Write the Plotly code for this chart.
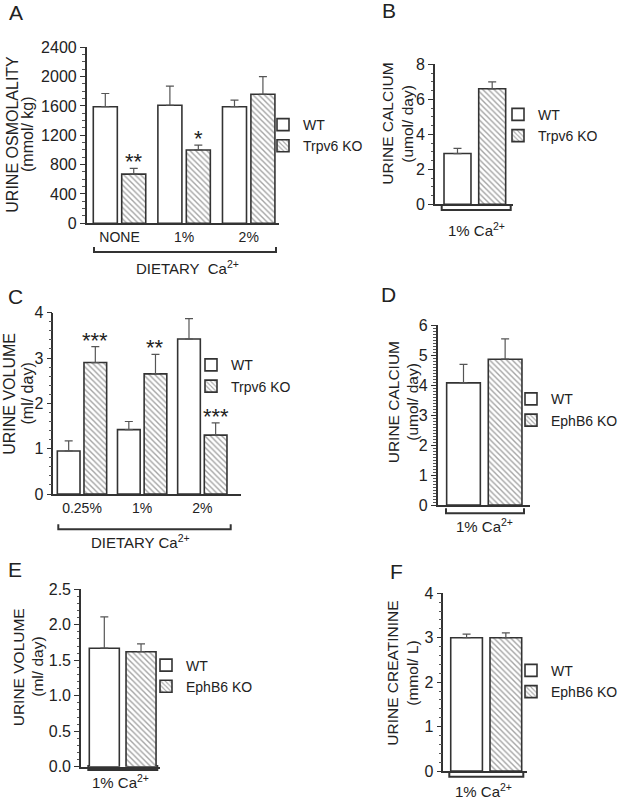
import plotly.graph_objects as go

W, H = 625, 799

# ---------------- data ----------------
a_cats = ["NONE", "1%", "2%"]
a_wt = [1590, 1610, 1590]
a_wt_err = [180, 260, 90]
a_ko = [670, 1000, 1760]
a_ko_err = [80, 65, 240]
a_stars = ["**", "*", ""]

b_cats = ["1% Ca"]
b_wt = [2.9]
b_wt_err = [0.3]
b_ko = [6.6]
b_ko_err = [0.4]

c_cats = ["0.25%", "1%", "2%"]
c_wt = [0.95, 1.42, 3.42]
c_wt_err = [0.22, 0.18, 0.45]
c_ko = [2.9, 2.65, 1.3]
c_ko_err = [0.35, 0.43, 0.27]
c_stars = ["***", "**", "***"]

d_cats = ["1% Ca"]
d_wt = [4.07]
d_wt_err = [0.62]
d_ko = [4.86]
d_ko_err = [0.68]

e_cats = ["1% Ca"]
e_wt = [1.67]
e_wt_err = [0.44]
e_ko = [1.62]
e_ko_err = [0.11]

f_cats = ["1% Ca"]
f_wt = [3.0]
f_wt_err = [0.08]
f_ko = [3.0]
f_ko_err = [0.11]

# ---------------- style helpers ----------------
FONT = "Liberation Sans, Arial, sans-serif"
TXT = "#222222"
LINE = "#333333"


def fx(px):
    return px / W


def fy(py):
    return 1 - py / H


panels = [
    dict(cats=a_cats, wt=a_wt, wte=a_wt_err, ko=a_ko, koe=a_ko_err, kon="Trpv6 KO", stars=a_stars,
         xpx=(86.7, 279), ypx=(223.3, 47.3), yr=(0, 2400), xr=(-0.508, 2.469),
         wo=-0.406, ko_off=0.034, bw=0.372, dtick=400, minor=100, fmt="d", showcat=True,
         leg=(263, 135.5), t1="URINE OSMOLALITY", t2="(mmol/ kg)", tx=(11.7, 27), ty=134,
         tsize=16, letter=("A", 16, 13)),
    dict(cats=b_cats, wt=b_wt, wte=b_wt_err, ko=b_ko, koe=b_ko_err, kon="Trpv6 KO", stars=None,
         xpx=(435, 512.7), ypx=(204.3, 64.3), yr=(0, 8), xr=(-0.513, 0.487),
         wo=-0.397, ko_off=0.0495, bw=0.347, dtick=2, minor=0.5, fmt="d", showcat=False,
         leg=(498, 125.3), t1="URINE CALCIUM", t2="(umol/ day)", tx=(386.7, 406.7), ty=124,
         tsize=15.5, letter=("B", 389, 10)),
    dict(cats=c_cats, wt=c_wt, wte=c_wt_err, ko=c_ko, koe=c_ko_err, kon="Trpv6 KO", stars=c_stars,
         xpx=(53.3, 240.7), ypx=(494, 312.7), yr=(0, 4), xr=(-0.477, 2.638),
         wo=-0.41, ko_off=0.033, bw=0.377, dtick=1, minor=0.2, fmt="d", showcat=True,
         leg=(191, 375.8), t1="URINE VOLUME", t2="(ml/ day)", tx=(8.8, 26.5), ty=394,
         tsize=16, letter=("C", 15, 296)),
    dict(cats=d_cats, wt=d_wt, wte=d_wt_err, ko=d_ko, koe=d_ko_err, kon="EphB6 KO", stars=None,
         xpx=(437.7, 530), ypx=(505, 325), yr=(0, 6), xr=(-0.507, 0.493),
         wo=-0.41, ko_off=0.041, bw=0.365, dtick=1, minor=0.1, fmt="d", showcat=False,
         leg=(511, 409.8), t1="URINE CALCIUM", t2="(umol/ day)", tx=(393.3, 411.7), ty=402,
         tsize=15.5, letter=("D", 389, 294)),
    dict(cats=e_cats, wt=e_wt, wte=e_wt_err, ko=e_ko, koe=e_ko_err, kon="EphB6 KO", stars=None,
         xpx=(81, 160), ypx=(766.7, 589.3), yr=(0, 2.5), xr=(-0.532, 0.468),
         wo=-0.427, ko_off=0.038, bw=0.38, dtick=0.5, minor=0.1, fmt=".1f", showcat=False,
         leg=(146, 676), t1="URINE VOLUME", t2="(ml/ day)", tx=(18.3, 36.7), ty=667,
         tsize=15.5, letter=("E", 15, 569)),
    dict(cats=f_cats, wt=f_wt, wte=f_wt_err, ko=f_ko, koe=f_ko_err, kon="EphB6 KO", stars=None,
         xpx=(443.3, 526.7), ypx=(771, 593.3), yr=(0, 4), xr=(-0.51, 0.49),
         wo=-0.421, ko_off=0.05, bw=0.38, dtick=1, minor=0.2, fmt="d", showcat=False,
         leg=(511, 681.3), t1="URINE CREATININE", t2="(mmol/ L)", tx=(391.7, 411.7), ty=673,
         tsize=15.5, letter=("F", 396, 571)),
]

# brackets: (x_left, x_right, y, label, label_x, label_y)
brackets = [
    (94, 276, 252, "DIETARY  Ca<sup>2+</sup>", 187, 267),
    (441.7, 510.7, 210, "1% Ca<sup>2+</sup>", 476, 229),
    (58.3, 230.7, 529.3, "DIETARY Ca<sup>2+</sup>", 140, 541),
    (446, 524, 513.3, "1% Ca<sup>2+</sup>", 484, 525),
    (88.3, 157.3, 770, "1% Ca<sup>2+</sup>", 120, 781),
    (449.3, 523.3, 776.7, "1% Ca<sup>2+</sup>", 483, 790),
]

fig = go.Figure()
layout = dict(
    width=W, height=H, margin=dict(l=0, r=0, t=0, b=0, autoexpand=False),
    paper_bgcolor="white", plot_bgcolor="white",
    barmode="overlay", font=dict(family=FONT, color=TXT, size=14),
    annotations=[], shapes=[],
)

for i, p in enumerate(panels):
    n = i + 1
    sx = "" if n == 1 else str(n)
    xa, ya = "x" + sx, "y" + sx
    legname = "legend" + sx
    zeros = [0] * len(p["wt"])
    common = dict(xaxis=xa, yaxis=ya, width=p["bw"], legend=legname, showlegend=True)
    fig.add_trace(go.Bar(
        x=p["cats"], y=p["wt"], name="WT", offset=p["wo"],
        marker=dict(color="white", line=dict(color=LINE, width=1.6)),
        error_y=dict(type="data", array=p["wte"], arrayminus=zeros, symmetric=False,
                     color="#555555", thickness=1.2, width=4),
        **common))
    fig.add_trace(go.Bar(
        x=p["cats"], y=p["ko"], name=p["kon"], offset=p["ko_off"],
        marker=dict(color="white", line=dict(color=LINE, width=1.6),
                    pattern=dict(shape="\\", fgcolor="#4a4a4a", bgcolor="white",
                                 size=4, solidity=0.35)),
        error_y=dict(type="data", array=p["koe"], arrayminus=zeros, symmetric=False,
                     color="#555555", thickness=1.2, width=4),
        **common))

    layout["xaxis" + sx] = dict(
        domain=[fx(p["xpx"][0]), fx(p["xpx"][1])], range=list(p["xr"]), anchor=ya,
        showline=True, linecolor=LINE, linewidth=1.6, ticks="", showgrid=False,
        zeroline=False, showticklabels=p["showcat"], tickfont=dict(size=14, color=TXT),
        fixedrange=True, type="category", automargin=False)
    layout["yaxis" + sx] = dict(
        domain=[fy(p["ypx"][0]), fy(p["ypx"][1])], range=list(p["yr"]), anchor=xa,
        showline=True, linecolor=LINE, linewidth=1.6, ticks="outside", ticklen=5,
        tickwidth=1.3, tickcolor=LINE, dtick=p["dtick"], tickformat=p["fmt"],
        minor=dict(dtick=p["minor"], ticks="outside", ticklen=2.5, tickwidth=1, tickcolor="#555555"),
        showgrid=False, zeroline=False, tickfont=dict(size=16, color=TXT), fixedrange=True,
        automargin=False)
    layout[legname] = dict(
        x=fx(p["leg"][0]), y=fy(p["leg"][1]), xanchor="left", yanchor="middle",
        bgcolor="rgba(0,0,0,0)", font=dict(size=14, color=TXT), tracegroupgap=0,
        traceorder="normal")

    layout["annotations"].append(dict(
        text=p["t1"], x=fx(p["tx"][0]), y=fy(p["ty"]), xref="paper", yref="paper",
        textangle=-90, showarrow=False, font=dict(size=p["tsize"], color=TXT),
        xanchor="center", yanchor="middle"))
    layout["annotations"].append(dict(
        text=p["t2"], x=fx(p["tx"][1]), y=fy(p["ty"]), xref="paper", yref="paper",
        textangle=-90, showarrow=False, font=dict(size=p["tsize"], color=TXT),
        xanchor="center", yanchor="middle"))
    lt, lx, ly = p["letter"]
    layout["annotations"].append(dict(
        text=lt, x=fx(lx), y=fy(ly), xref="paper", yref="paper", showarrow=False,
        font=dict(size=21, color=TXT), xanchor="center", yanchor="middle"))
    if p["stars"]:
        for j, s in enumerate(p["stars"]):
            if not s:
                continue
            layout["annotations"].append(dict(
                text=s, x=j + p["ko_off"] + p["bw"] / 2, y=p["ko"][j] + p["koe"][j],
                xref=xa, yref=ya, showarrow=False, yanchor="bottom", xanchor="center",
                yshift=-8, font=dict(size=22, color=TXT)))

for (x0, x1, yb, lab, lx, ly) in brackets:
    path = "M {} {} L {} {} L {} {} L {} {}".format(
        fx(x0), fy(yb - 5), fx(x0), fy(yb), fx(x1), fy(yb), fx(x1), fy(yb - 5))
    layout["shapes"].append(dict(type="path", path=path, xref="paper", yref="paper",
                                 line=dict(color=LINE, width=2)))
    layout["annotations"].append(dict(
        text=lab, x=fx(lx), y=fy(ly), xref="paper", yref="paper", showarrow=False,
        font=dict(size=15, color=TXT), xanchor="center", yanchor="middle"))

fig.update_layout(**layout)
fig.write_html("out.html", config={"displayModeBar": False},
               post_script="document.body.style.margin='0';document.body.style.overflow='hidden';")
